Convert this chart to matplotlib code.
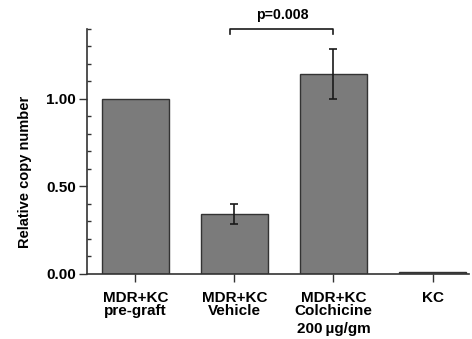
import numpy as np
import matplotlib
matplotlib.use('Agg')
import matplotlib.pyplot as plt
from matplotlib.ticker import MultipleLocator

plt.rcParams['font.family'] = ['Liberation Sans', 'DejaVu Sans']
plt.rcParams['font.weight'] = 'bold'

# Data
groups = ['MDR+KC\npre-graft', 'MDR+KC\nVehicle', 'MDR+KC\nColchicine', 'KC']
copy_number = [1.00, 0.342, 1.142, 0.01]
errors = [0.0, 0.058, 0.145, 0.0]
p_label = 'p=0.008'

fig = plt.figure(figsize=(4.72, 3.39), dpi=100)
ax = fig.add_axes([0.184, 0.192, 0.81, 0.7227])

x = np.arange(len(groups))
ax.bar(x, copy_number, 0.67, color='#7b7b7b', edgecolor='#333333',
       linewidth=1.0, zorder=2)

# error bars: both caps drawn, line over the bar
err_idx = [i for i, e in enumerate(errors) if e > 0]
ax.errorbar(x[err_idx], [copy_number[i] for i in err_idx],
            yerr=[errors[i] for i in err_idx], fmt='none',
            ecolor='#1a1a1a', elinewidth=1.2, capsize=2.8, capthick=1.2,
            zorder=3)

ax.set_xlim(-0.49, 3.37)
ax.set_ylim(0, 1.40)

ax.yaxis.set_minor_locator(MultipleLocator(0.1))
ax.set_yticks([0.0, 0.5, 1.0])
ax.set_yticklabels(['0.00', '0.50', '1.00'], fontsize=11, fontweight='bold')
ax.set_xticks(x)
ax.set_xticklabels(groups, fontsize=11, fontweight='bold', linespacing=0.95)
ax.tick_params(axis='y', which='major', length=6, width=1.0, pad=2,
               color='#333333')
ax.tick_params(axis='y', which='minor', length=3, width=1.0,
               direction='in', color='#333333')
ax.tick_params(axis='x', length=6, width=1.0, pad=6, color='#333333')

ax.set_ylabel('Relative copy number', fontsize=10.5, fontweight='bold',
              labelpad=10, y=0.415)

ax.spines['top'].set_visible(False)
ax.spines['right'].set_visible(False)
ax.spines['left'].set_color('#333333')
ax.spines['bottom'].set_color('#333333')
ax.spines['left'].set_linewidth(1.2)
ax.spines['bottom'].set_linewidth(1.2)

# dose label under the colchicine group
ax.text(2, -0.275, '200\u2009\u00b5g/gm', ha='center', va='top',
        fontsize=11, fontweight='bold', clip_on=False)

# significance bracket
ax.plot([0.96, 0.96, 2.0, 2.0], [1.37, 1.40, 1.40, 1.37],
        color='#1a1a1a', linewidth=1.2, clip_on=False)
ax.text(1.48, 1.44, p_label, ha='center', va='bottom', fontsize=10.2,
        fontweight='bold', clip_on=False)

fig.savefig('out.png', dpi=100)
